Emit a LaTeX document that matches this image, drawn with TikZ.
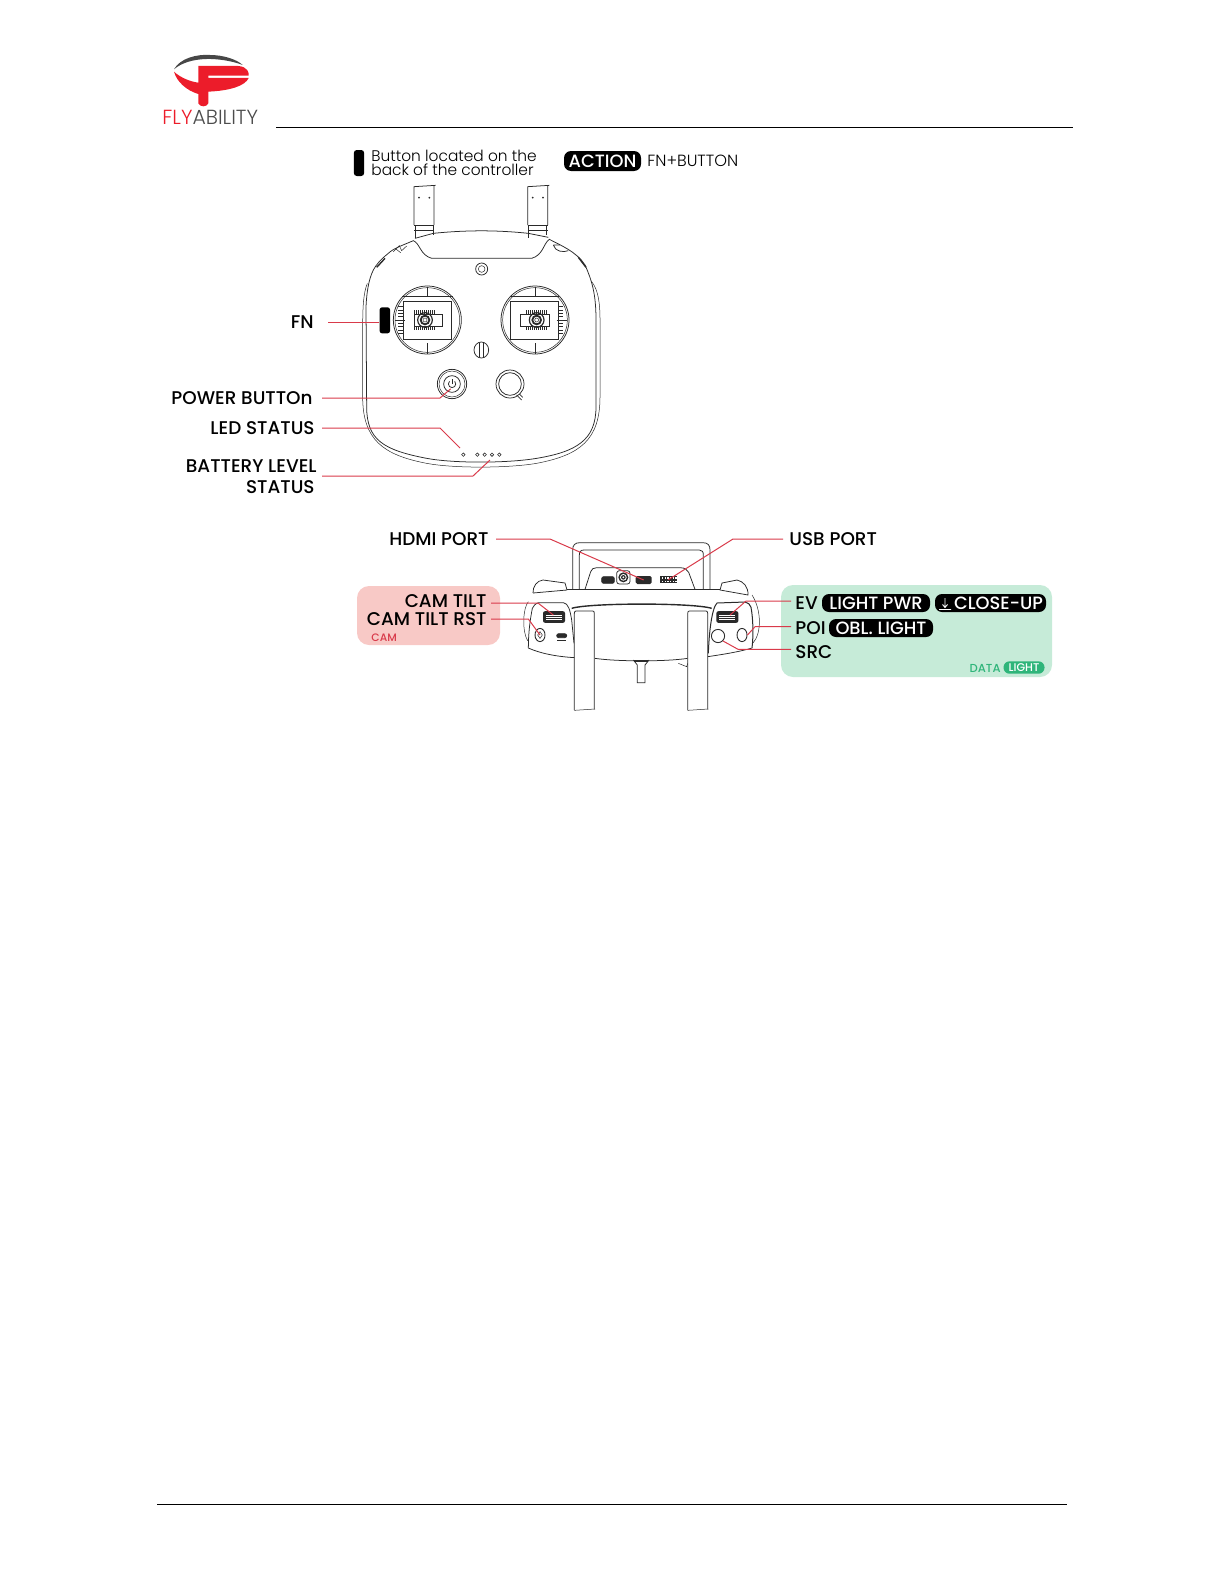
\documentclass[tikz,border=0pt]{standalone}
\usetikzlibrary{shapes.geometric}
\usepackage{fontspec}
\setmainfont{Poppins Medium}
\newfontfamily\lightf{Poppins Light}
\definecolor{redl}{HTML}{D93A4A}
\definecolor{ink}{HTML}{2A2A2A}
\definecolor{pinkbg}{HTML}{F8C9C6}
\definecolor{greenbg}{HTML}{C6EBD8}
\definecolor{greent}{HTML}{2FB57A}
\definecolor{logored}{HTML}{EC1C2A}
\tikzset{
  lbl/.style={inner sep=0pt,text height=6.6pt,text depth=0pt,font=\fontsize{9.2}{11}\selectfont,text=black},
  pill/.style={fill=black,text=white,rounded corners=3.5pt,inner sep=0pt,minimum height=9pt,font=\fontsize{8.9}{11}\selectfont,text height=6.4pt,text depth=0pt},
  conn/.style={draw=redl,line width=0.5pt,line join=round},
  lin/.style={draw=ink,line width=0.38pt},
  thin/.style={draw=ink,line width=0.25pt},
  rule/.style={draw=black,line width=0.5pt},
}
\begin{document}
\begin{tikzpicture}[x=0.5pt,y=-0.5pt]
\useasboundingbox (0,0) rectangle (1224,1584);
% rules
\coordinate (ruleTopA) at (276,127.3);
\coordinate (ruleTopB) at (1073,127.3);
\coordinate (ruleBotA) at (157,1504);
\coordinate (ruleBotB) at (1067,1504);
\draw[rule] (ruleTopA) -- (ruleTopB);
\draw[rule] (ruleBotA) -- (ruleBotB);
% logo
\begin{scope}[shift={(160,50)},x=0.16667pt,y=-0.16667pt]
\fill[logored] (115,48) -- (235,48) .. controls (262,50) and (268,68) .. (266,77) -- (145,77) -- (145,84) -- (266,84) .. controls (255,108) and (210,122) .. (145,125) -- (145,160) .. controls (140,172) and (120,172) .. (115,160) -- (115,132) .. controls (80,122) and (50,95) .. (42,65) .. controls (60,82) and (90,95) .. (115,98) -- cycle;
\fill[black!72] (42,58) .. controls (60,25) and (110,12) .. (150,15) .. controls (190,15) and (230,28) .. (248,45) .. controls (215,32) and (170,26) .. (140,27) .. controls (100,28) and (65,38) .. (42,58) -- cycle;
\end{scope}
\node[inner sep=0pt,anchor=west,font=\lightf\fontsize{10.2}{11}\selectfont] (logotext) at (162,117) {\textcolor{logored}{FLY}\textcolor{black!70}{ABILITY}};
% legend
\node[fill=black,rounded corners=1.5pt,minimum width=5.2pt,minimum height=13pt,inner sep=0pt] (legbtn) at (359,163) {};
\node[inner sep=0pt,anchor=west,font=\lightf\fontsize{7.7}{7}\selectfont] (legtext) at (371,156) {Button located on the};
\node[inner sep=0pt,anchor=west,font=\lightf\fontsize{7.7}{7}\selectfont] (legtextb) at (371,169.5) {back of the controller};
\node[pill,minimum width=38.5pt,minimum height=10pt] (legpill) at (602.5,161) {ACTION};
\node[inner sep=0pt,anchor=west,font=\lightf\fontsize{8.1}{9}\selectfont] (legfn) at (647,161) {FN+BUTTON};
% front of controller
\begin{scope}[shift={(340,180)},x=0.16667pt,y=-0.16667pt]
 \foreach \a in {222,563}{
  \draw[lin] (\a,135) -- (\a,20) -- (\a+65,16) (\a+60,135) -- (\a+60,18);
  \draw[thin] (\a,135) -- (\a+60,135) (\a,150) -- (\a+60,150);
  \draw[lin] (\a+3,135) -- (\a+3,175) (\a+57,135) -- (\a+57,165);
  \fill[ink] (\a+15,53) circle (3) (\a+46,53) circle (3);
 }
 % body
 \draw[lin] (78,380) .. controls (80,340) and (85,300) .. (100,270) .. controls (108,255) and (120,240) .. (145,220) .. controls (160,205) and (190,195) .. (220,182) .. controls (240,190) and (240,225) .. (275,235) -- (575,235) .. controls (610,225) and (610,190) .. (628,178) .. controls (660,195) and (710,215) .. (735,255);
 \draw[lin] (225,175) -- (280,160) .. controls (380,150) and (470,150) .. (565,160) -- (625,172);
 \draw[lin] (78,380) -- (80,680) .. controls (80,780) and (130,810) .. (260,835) .. controls (340,850) and (500,850) .. (590,835) .. controls (710,815) and (768,780) .. (768,680) -- (768,420) .. controls (768,340) and (755,300) .. (735,255);
 \draw[thin] (82,310) .. controls (70,340) and (68,380) .. (68,450) -- (68,650) .. controls (68,780) and (130,825) .. (260,850) .. controls (340,865) and (500,865) .. (590,850) .. controls (720,825) and (780,780) .. (780,650) -- (780,420) .. controls (780,370) and (775,330) .. (755,305);
 % shoulder details
 \draw[thin] (160,215) -- (178,197) -- (185,212) -- (200,198) (165,205) -- (182,218);
 \draw[ink,line width=0.7pt] (110,262) -- (135,235) (715,232) -- (738,262);
 \draw[lin] (640,195) .. controls (645,215) and (670,218) .. (685,212) (640,195) -- (660,195);
 % top knob
 \draw[lin] (425,267) circle (18); \draw[thin] (425,267) circle (10);
 % sticks
 \foreach \cx/\sl/\sr/\kx/\il/\ir in {262/190/335/255/223/308, 585/512/655/590/540/628}{
  \draw[lin] (\cx,420) circle (102);
  \draw[thin] (\cx,420) circle (97);
  \draw[thin] (\cx,320) -- (\cx,350) (\cx,490) -- (\cx,522);
  \draw[thin] (\sl-3,350) -- (\sr+3,350);
  \draw[lin] (\sl,363) rectangle (\sr,477);
  \draw[lin] (\il,402) rectangle (\ir,440);
  \foreach \t in {-32,-26,...,32}{\draw[thin] (\kx+\t,391) -- (\kx+\t,402) (\kx+\t,440) -- (\kx+\t,451);}
  \draw[ink,line width=0.6pt] (\kx,420) circle (22);
  \draw[ink,line width=0.9pt] (\kx,420) circle (13);
  \draw[thin] (\kx,420) circle (6);
 }
 \foreach \t in {380,390,...,460}{\draw[thin] (175,\t) -- (190,\t); \draw[thin] (655,\t) -- (670,\t);}
 \draw[thin] (165,420) -- (195,420) (650,420) -- (680,420);
 % mid knob
 \draw[lin] (424,510) ellipse (22 and 24);
 \draw[thin] (417,490) -- (417,530) (431,490) -- (431,530);
 % power
 \draw[lin] (336,612) circle (44); \draw[thin] (336,612) circle (39); \draw[lin] (336,612) circle (25);
 \draw[lin] (344,604) arc (-45:225:11); \draw[lin] (336,598) -- (336,612);
 \node[circle,minimum size=4pt,inner sep=0pt] (pwr) at (342,618) {};
 % big knob
 \draw[lin] (510,612) circle (42); \draw[lin] (510,612) circle (34);
 \draw[lin] (530,645) -- (545,660) (538,642) -- (548,652);
 % LEDs
 \foreach \n/\x in {ledA/370,ledB/412,ledC/434,ledD/456,ledE/478}{\node[draw=ink,line width=0.3pt,circle,inner sep=0pt,minimum size=1.7pt] (\n) at (\x,824) {};}
 % fn
 \node[fill=black,rounded corners=1.2pt,minimum width=5.2pt,minimum height=13pt,inner sep=0pt] (fnbtn) at (134.5,421) {};
 \coordinate (ledT) at (360,804);
 \coordinate (batT) at (450,840);
\end{scope}
% front labels
\node[lbl,anchor=east] (lFN) at (314,322) {FN};
\node[lbl,anchor=east] (lPW) at (313,398) {POWER BUTTOn};
\node[lbl,anchor=east] (lLED) at (315,428) {LED STATUS};
\node[lbl,anchor=east] (lBAT) at (317,466) {BATTERY LEVEL};
\node[lbl,anchor=east] (lBATb) at (315,487) {STATUS};
\coordinate (bPW) at (440,398); \coordinate (bLED) at (440,428); \coordinate (bBAT) at (473,476);
\draw[conn] ([xshift=7pt]lFN.east) -- (lFN.east -| fnbtn.west);
\draw[conn] ([xshift=4.5pt]lPW.east) -- (bPW) -- (pwr);
\draw[conn] ([xshift=3.5pt]lLED.east) -- (bLED) -- (ledT);
\draw[conn] ([xshift=2.5pt,yshift=-5pt]lBAT.east) -- (bBAT) -- (batT);
% back of controller panels
\node[fill=pinkbg,rounded corners=6pt,minimum width=71.5pt,minimum height=29.5pt,inner sep=0pt] (pinkp) at (428.5,615.5) {};
\node[fill=greenbg,rounded corners=6pt,minimum width=135.5pt,minimum height=46pt,inner sep=0pt] (greenp) at (916.5,631) {};
\begin{scope}[shift={(350,520)},x=0.16667pt,y=-0.16667pt]
 % handle
 \draw[lin] (668,208) -- (668,90) .. controls (668,75) and (675,68) .. (690,68) -- (1058,68) .. controls (1073,68) and (1080,75) .. (1080,90) -- (1080,208);
 \draw[lin] (688,208) -- (688,105) .. controls (688,95) and (692,90) .. (702,90) -- (1048,90) .. controls (1056,90) and (1060,95) .. (1060,105) -- (1060,208);
 \draw[lin,fill=white] (705,208) -- (722,155) .. controls (725,147) and (730,143) .. (740,143) -- (990,143) .. controls (1005,143) and (1012,150) .. (1016,157) -- (1035,208);
 % ports
 \draw[lin,fill=ink,rounded corners=1pt] (755,170) rectangle (793,190);
 \draw[lin,rounded corners=1.3pt] (800,152) rectangle (840,192);
 \fill[ink] (820,172) circle (15); \fill[white] (820,172) circle (10); \fill[ink] (820,172) circle (7); \fill[white] (820,172) circle (3);
 \node[fill=ink,rounded corners=0.8pt,minimum width=8pt,minimum height=4pt,inner sep=0pt] (hdmiport) at (881,180) {};
 \node[fill=ink,minimum width=8.4pt,minimum height=3.7pt,inner sep=0pt] (usbport) at (955,179) {};
 \foreach \t in {936,944,...,976}{\fill[white] (\t,172) rectangle (\t+4,176); \fill[white] (\t,182) rectangle (\t+4,186);}
 % shoulders
 \draw[lin] (549,219) .. controls (548,200) and (560,182) .. (579,180) -- (645,189) -- (651,210);
 \draw[lin] (549,219) -- (651,210);
 \draw[lin] (1110,210) -- (1116,189) -- (1161,180) .. controls (1180,184) and (1195,200) .. (1194,225) -- cycle;
 \draw[lin] (651,208) -- (1110,208);
 % central
 \draw[ink,line width=0.7pt] (665,265) .. controls (720,248) and (1030,248) .. (1085,265);
 % grips
 \draw[lin] (672,370) -- (665,300) .. controls (660,270) and (655,250) .. (640,248) -- (565,248) .. controls (555,252) and (550,258) .. (547,265) .. controls (540,300) and (535,340) .. (535,384);
 \draw[ink,line width=0.5pt] (1075,400) .. controls (1077,340) and (1085,265) .. (1101,249) -- (1185,246) .. controls (1195,248) and (1200,253) .. (1203,262) .. controls (1210,300) and (1210,350) .. (1206,384);
 \draw[thin] (535,245) .. controls (518,265) and (516,335) .. (533,362);
 \draw[thin] (1206,225) .. controls (1235,270) and (1235,340) .. (1209,369);
 \draw[lin] (535,384) .. controls (570,400) and (620,410) .. (675,413);
 \draw[lin] (1206,384) .. controls (1170,395) and (1120,403) .. (1073,410);
 \draw[lin] (735,415) .. controls (800,425) and (950,425) .. (1013,415);
 % wheels
 \foreach \n/\wx in {wheelL/612,wheelR/1132}{
  \node[fill=ink,rounded corners=1pt,minimum width=11pt,minimum height=5.8pt,inner sep=0pt] (\n) at (\wx,291) {};
  \draw[white,line width=0.3pt] (\wx-24,285) -- (\wx+24,285) (\wx-24,291) -- (\wx+24,291) (\wx-24,297) -- (\wx+24,297);
 }
 % knobs
 \node[draw=ink,line width=0.45pt,ellipse,inner sep=0pt,minimum width=5pt,minimum height=6.6pt] (camrst) at (570,345) {};
 \draw[thin] (570,335) -- (577,345) -- (570,355) -- (563,345) -- cycle;
 \draw[lin,rounded corners=1pt,fill=ink] (620,341) rectangle (650,353);
 \draw[thin] (622,360) -- (648,360);
 \node[draw=ink,line width=0.45pt,circle,inner sep=0pt,minimum size=6.6pt] (srcb) at (1104,348) {};
 \node[draw=ink,line width=0.45pt,ellipse,inner sep=0pt,minimum width=5pt,minimum height=6.6pt] (poib) at (1176,345) {};
 % antennas
 \foreach \a in {673,1013}{
  \draw[lin,fill=white] (\a,570) -- (\a,280) .. controls (\a,275) and (\a+2,273) .. (\a+5,273) -- (\a+55,273) .. controls (\a+58,273) and (\a+60,275) .. (\a+60,280) -- (\a+60,568);
  \draw[thin] (\a,571) -- (\a+62,567);
 }
 % stub
 \draw[lin] (850,420) -- (862,435) -- (862,488) -- (885,488) -- (885,435) -- (897,420);
 \draw[ink,line width=0.6pt] (852,423) -- (893,423);
 \draw[thin] (985,430) -- (1010,440) -- (1013,430);
 % connector ends
 \coordinate (camT) at (610,285);
 \coordinate (camB1) at (564,249);
 \coordinate (rstB1) at (535,297);
\end{scope}
% back labels
\node[lbl,anchor=east] (lHDMI) at (489,539) {HDMI PORT};
\node[lbl,anchor=west] (lUSB) at (789,539) {USB PORT};
\node[lbl,anchor=east] (lCT) at (487,601) {CAM TILT};
\node[lbl,anchor=east] (lCR) at (487,619) {CAM TILT RST};
\node[inner sep=0pt,anchor=west,text=redl,font=\fontsize{5.4}{7}\selectfont] (lCAM) at (371,638) {CAM};
\node[lbl,anchor=west] (lEV) at (795,603) {EV};
\node[lbl,anchor=west] (lPOI) at (795,628) {POI};
\node[lbl,anchor=west] (lSRC) at (795,652) {SRC};
\node[pill,minimum width=54pt] (pLP) at (876,603) {LIGHT PWR};
\node[pill,minimum width=55.5pt] (pCU) at (990.5,603) {\hspace*{8pt}CLOSE-UP};
\draw[white,line width=0.45pt] (945,598) -- (945,607) (942.5,604.5) -- (945,607.5) -- (947.5,604.5) (939,609.5) -- (951,609.5);
\node[pill,minimum width=52pt] (pOL) at (881,628) {OBL. LIGHT};
\node[inner sep=0pt,anchor=east,text=greent,font=\fontsize{5.8}{7}\selectfont] (lDATA) at (1001,668) {DATA};
\node[fill=greent,text=white,rounded corners=3pt,inner sep=0pt,minimum width=20.5pt,minimum height=6.2pt,font=\fontsize{5.6}{7}\selectfont] (pLI) at (1024,667.5) {LIGHT};
\coordinate (bHD) at (550,539); \coordinate (bUS) at (733,539);
\coordinate (bEV) at (746,601); \coordinate (tEV) at (730,615);
\coordinate (bPO) at (755,626.7); \coordinate (bSR) at (738,649.3);
\draw[conn] ([xshift=3.5pt]lHDMI.east) -- (bHD) -- (hdmiport.center);
\draw[conn] ([xshift=-3pt]lUSB.west) -- (bUS) -- (usbport.center);
\draw[conn] ([xshift=2pt,yshift=-1pt]lCT.east) -- (camB1) -- (camT);
\draw[conn] ([xshift=2pt]lCR.east) -- (rstB1) -- (camrst.center);
\draw[conn] ([xshift=-2pt,yshift=1pt]lEV.west) -- (bEV) -- (tEV);
\draw[conn] ([xshift=-2pt,yshift=0.65pt]lPOI.west) -- (bPO) -- (poib.east);
\draw[conn] ([xshift=-2pt,yshift=1.35pt]lSRC.west) -- (bSR) -- (srcb.south east);
\end{tikzpicture}
\end{document}
